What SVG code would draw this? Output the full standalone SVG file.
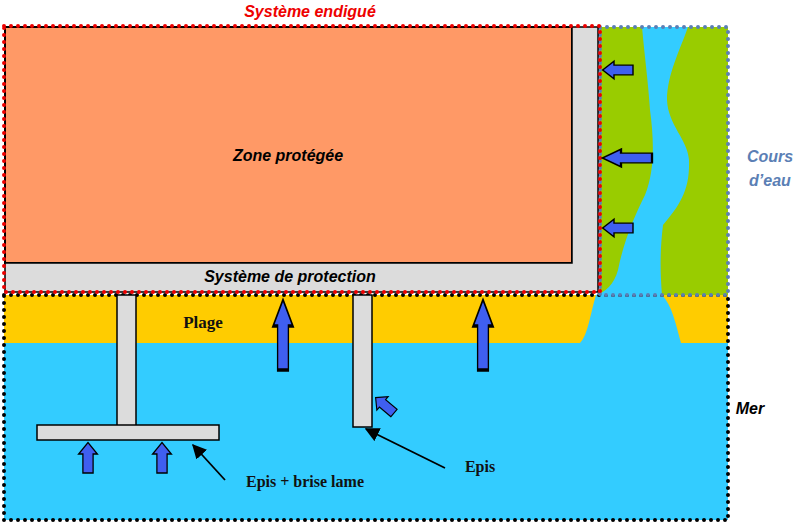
<svg xmlns="http://www.w3.org/2000/svg" width="800" height="523" viewBox="0 0 800 523">
<defs>
<style>
.ar{fill:#3f5ff0;stroke:#000;stroke-width:1.5}
.gr{fill:#dcdcdc;stroke:#000;stroke-width:1.5}
.it{font-family:"Liberation Sans",Arial,sans-serif;font-weight:bold;font-style:italic}
.tm{font-family:"Liberation Serif",serif;font-weight:bold;fill:#111}
</style>
<marker id="ah" viewBox="0 0 10 10" refX="9" refY="5" markerWidth="8" markerHeight="8" orient="auto"><path d="M0,0L10,5L0,10z" fill="#000"/></marker>
<path id="up" d="M-6,0 V-20 H-11 L0,-32 L11,-20 H6 V0 Z"/>
</defs>
<rect width="800" height="523" fill="#fff"/>
<g id="mer">
<rect x="4" y="295" width="724" height="225" fill="#33ccff"/>
<path d="M4,295 H596 C590,315 588,335 580,343 H4 Z" fill="#ffcc00"/>
<path d="M662,295 H728 V343 H681 C676,325 672,305 662,295 Z" fill="#ffcc00"/>
<rect x="4" y="295" width="724" height="225" fill="none" stroke="#000" stroke-width="4" stroke-linecap="round" stroke-dasharray="0 7"/>
<text x="750" y="414" class="it" font-size="16" text-anchor="middle">Mer</text>
<text x="203" y="328" class="tm" font-size="17" text-anchor="middle" fill="#222">Plage</text>
</g>
<g id="cours">
<rect x="600" y="27" width="128" height="268" fill="#99cc00"/>
<path d="M642,27 C645,60 648,80 650,110 C654,140 655,170 645,195 C635,215 624,240 618,270 C614,285 605,292 596,295 L662,295 C660,270 660,250 663,225 C680,205 690,190 689,160 C688,140 668,125 667,100 C667,75 680,50 688,27 Z" fill="#33ccff"/>
<rect x="600" y="27" width="128" height="268" fill="none" stroke="#5b7fb5" stroke-width="4" stroke-linecap="round" stroke-dasharray="0 7"/>
<text x="770" y="162" class="it" font-size="16" fill="#5b7fb5" text-anchor="middle">Cours</text>
<text x="770" y="186" class="it" font-size="16" fill="#5b7fb5" text-anchor="middle">d’eau</text>
</g>
<g id="zone">
<rect x="5" y="27" width="567" height="236" fill="#ff9966" stroke="#000" stroke-width="2"/>
<text x="288" y="161" class="it" font-size="16" text-anchor="middle">Zone protégée</text>
</g>
<g id="protection">
<path d="M5,263 H572 V27 H598 V292 H5 Z" class="gr"/>
<text x="290" y="282" class="it" font-size="16" text-anchor="middle">Système de protection</text>
</g>
<g id="endigue">
<rect x="4" y="26" width="596" height="266" fill="none" stroke="#e00" stroke-width="4" stroke-linecap="round" stroke-dasharray="0 7"/>
<text x="310" y="17" class="it" font-size="16" fill="#e00" text-anchor="middle">Système endigué</text>
</g>
<g id="epis-brise">
<rect x="117" y="295" width="19" height="131" class="gr"/>
<rect x="37" y="425" width="182" height="15" class="gr"/>
<text x="305" y="487" class="tm" font-size="16" text-anchor="middle">Epis + brise lame</text>
</g>
<g id="epis">
<rect x="353" y="295" width="19" height="132" class="gr"/>
<text x="480" y="472" class="tm" font-size="16" text-anchor="middle">Epis</text>
</g>
<g id="fleches">
<use href="#up" class="ar" transform="translate(283,370) scale(0.9,2.2)"/>
<use href="#up" class="ar" transform="translate(483,370) scale(0.9,2.2)"/>
<use href="#up" class="ar" transform="translate(88,473) scale(0.85,0.95)"/>
<use href="#up" class="ar" transform="translate(162,473) scale(0.85,0.95)"/>
<use href="#up" class="ar" transform="translate(394,413) rotate(-50) scale(0.8,0.75)"/>
<use href="#up" class="ar" transform="translate(633,70) rotate(-90) scale(0.8,0.95)"/>
<use href="#up" class="ar" transform="translate(652,158) rotate(-90) scale(0.8,1.55)"/>
<use href="#up" class="ar" transform="translate(633,228) rotate(-90) scale(0.8,0.95)"/>
</g>
<g id="connecteurs" stroke="#000" stroke-width="1.8" fill="none">
<line x1="225" y1="480" x2="193" y2="445" marker-end="url(#ah)"/>
<line x1="445" y1="468" x2="366" y2="429" marker-end="url(#ah)"/>
</g>
</svg>
